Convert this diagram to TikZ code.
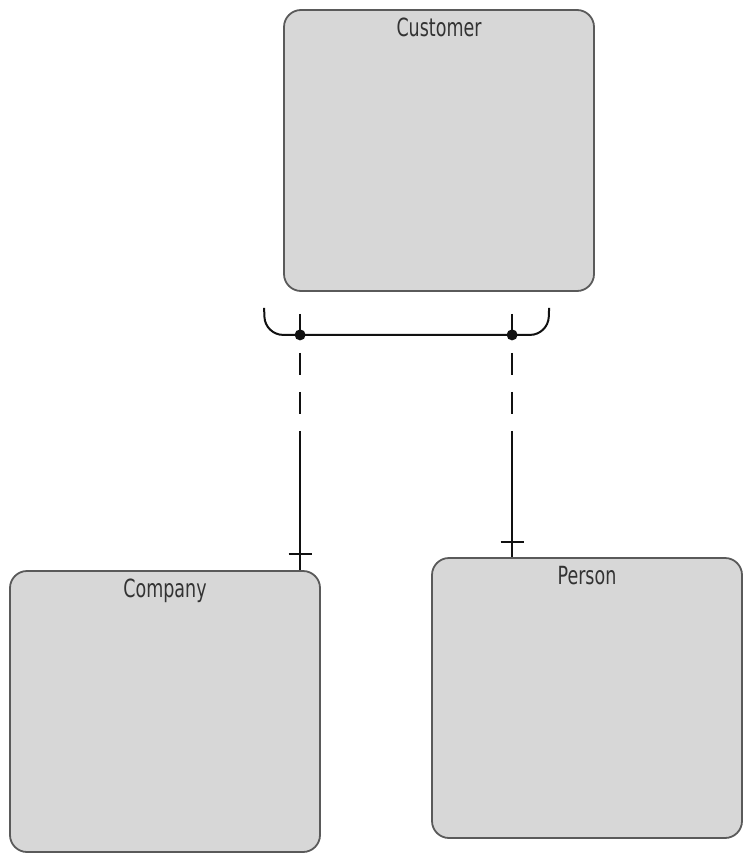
\documentclass[tikz,border=0pt]{standalone}
\usepackage{fontspec}
\newfontfamily\boxfont[FakeStretch=0.7]{DejaVu Sans}
\usepackage{tikz}
\usetikzlibrary{calc,positioning}
\definecolor{boxfill}{HTML}{D7D7D7}
\definecolor{boxline}{HTML}{5A5A5A}
\definecolor{ink}{HTML}{111111}
\tikzset{
  entity/.style={draw=boxline,fill=boxfill,line width=1.8pt,rounded corners=17pt,minimum width=310pt,minimum height=281pt,inner sep=0pt},
  title/.style={font=\boxfont\fontsize{25}{25}\selectfont,text=black!80,anchor=base,inner sep=0pt},
  rel/.style={ink,line width=2pt},
  dashlink/.style={ink,line width=2pt,dash pattern=on 22pt off 17pt}
}

\begin{document}
\begin{tikzpicture}[x=1pt,y=-1pt]
\useasboundingbox (0,0) rectangle (747,859);
\node[entity] (customer) at (439,150.5){};
\node[entity] (company) at (165,711.5){};
\node[entity,minimum height=280pt] (person) at (587,698){};
\node[title] (customer-t) at ([yshift=-27pt]customer.north){Customer};
\node[title] (company-t) at ([yshift=-27pt]company.north){Company};
\node[title] (person-t) at ([yshift=-27pt]person.north){Person};
% attach points of the two lines
\coordinate (cl) at ([xshift=17pt]customer.south west);
\coordinate (cr) at ([xshift=229pt]customer.south west);
\coordinate (bl) at ($(cl)+(0,43)$);
\coordinate (br) at ($(cr)+(0,43)$);
% bracket
\draw[rel,rounded corners=18pt] ($(bl)+(-36,-27)$) -- ($(bl)+(-35,0)$) -- ($(br)+(36,0)$) -- ($(br)+(37,-27)$);
\fill[ink] (bl) circle (5.5pt);\fill[ink] (br) circle (5.5pt);
% customer side
\draw[dashlink] ($(cl)+(0,22)$) -- ($(cl)+(0,140)$);
\draw[dashlink] ($(cr)+(0,22)$) -- ($(cr)+(0,140)$);
% subtype side
\draw[rel] ($(cl)+(0,140)$) -- (cl |- company.north);
\draw[rel] ($(cr)+(0,140)$) -- (cr |- person.north);
\draw[rel] ($(cl |- company.north)+(-11.5,-16)$) -- ++(23,0);
\draw[rel] ($(cr |- person.north)+(-11.5,-15)$) -- ++(23,0);
\end{tikzpicture}
\end{document}
